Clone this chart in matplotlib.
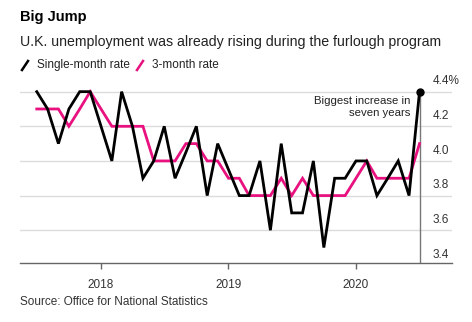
import numpy as np
import pandas as pd
import matplotlib
matplotlib.use("Agg")
import matplotlib.pyplot as plt
import matplotlib.dates as mdates
import matplotlib.transforms as mtransforms
from matplotlib.lines import Line2D

plt.rcParams['font.family'] = ['Liberation Sans', 'DejaVu Sans']

# Data (monthly, Jul 2017 - Jul 2020)
months = pd.date_range('2017-07-01', periods=37, freq='MS')
single_month = [4.4, 4.3, 4.1, 4.3, 4.4, 4.4, 4.2, 4.0, 4.4, 4.2,
                3.9, 4.0, 4.2, 3.9, 4.05, 4.2, 3.8, 4.1, 3.95, 3.8,
                3.8, 4.0, 3.6, 4.1, 3.7, 3.7, 4.0, 3.5, 3.9, 3.9,
                4.0, 4.0, 3.8, 3.9, 4.0, 3.8, 4.4]
three_month = [4.3, 4.3, 4.3, 4.2, 4.3, 4.4, 4.3, 4.2, 4.2, 4.2,
               4.2, 4.0, 4.0, 4.0, 4.1, 4.1, 4.0, 4.0, 3.9, 3.9,
               3.8, 3.8, 3.8, 3.9, 3.8, 3.9, 3.8, 3.8, 3.8, 3.8,
               3.9, 4.0, 3.9, 3.9, 3.9, 3.9, 4.1]
y_ticks = [3.4, 3.6, 3.8, 4.0, 4.2, 4.4]
y_labels = ['3.4', '3.6', '3.8', '4.0', '4.2', '4.4%']
x_ticks = pd.to_datetime(['2018-01-01', '2019-01-01', '2020-01-01'])
x_labels = ['2018', '2019', '2020']

pink = '#e8117f'
W, H = 472, 322
fig = plt.figure(figsize=(W / 100, H / 100), dpi=100)
# axes box in pixels: left 20, right 452, top ~83, bottom 263
left, right, top, bottom = 20, 452, 83, 263.3
ax = fig.add_axes([left / W, 1 - bottom / H, (right - left) / W, (bottom - top) / H])

ymin = 3.409
ymax = ymin + (bottom - top) / 173.2
ax.set_ylim(ymin, ymax)
ax.set_xlim(pd.Timestamp('2017-05-14'), pd.Timestamp('2020-10-02'))

for v in y_ticks[1:]:
    ax.axhline(v, color='#dcdcdc', lw=1.0, zorder=0)

# annotation leader line down from last point
ax.plot([months[-1], months[-1]], [ymin, single_month[-1]], color='#777777', lw=1.0, zorder=1)

ax.plot(months, three_month, color=pink, lw=2.0, solid_joinstyle='miter', zorder=2)
ax.plot(months, single_month, color='black', lw=2.0, solid_joinstyle='miter', zorder=3)
ax.plot(months[-1], single_month[-1], 'o', color='black', ms=5, zorder=4)

ax.text(months[-1] - pd.Timedelta(days=25), 4.375, 'Biggest increase in\nseven years',
        ha='right', va='top', fontsize=8.2, color='#222222', linespacing=1.25)

# y labels sitting above gridlines on the right
off = mtransforms.offset_copy(ax.get_yaxis_transform(), fig=fig, x=0, y=3, units='points')
for v, lab in zip(y_ticks, y_labels):
    ax.text(413 / 432 * 1.0, v, lab, transform=off, ha='left', va='bottom',
            fontsize=8.5, color='#333333')

ax.set_yticks([])
ax.set_xticks(x_ticks)
ax.set_xticklabels(x_labels)
ax.tick_params(axis='x', length=4, width=1, color='#666666', labelsize=8.5,
               labelcolor='#333333', pad=7)
for s in ['top', 'right', 'left']:
    ax.spines[s].set_visible(False)
ax.spines['bottom'].set_color('#666666')
ax.spines['bottom'].set_linewidth(1.0)

# titles
fig.text(20 / W, 1 - 17 / H, 'Big Jump', fontsize=10.5, fontweight='bold', va='center', ha='left')
fig.text(20 / W, 1 - 42 / H, 'U.K. unemployment was already rising during the furlough program',
         fontsize=10.2, va='center', ha='left', color='#222222')

# legend
fig.add_artist(Line2D([22 / W, 28 / W], [1 - 70 / H, 1 - 61 / H], color='black', lw=1.8))
fig.text(37 / W, 1 - 65 / H, 'Single-month rate', fontsize=8.5, va='center', ha='left', color='#222222')
fig.add_artist(Line2D([137 / W, 143 / W], [1 - 70 / H, 1 - 61 / H], color=pink, lw=1.8))
fig.text(152 / W, 1 - 65 / H, '3-month rate', fontsize=8.5, va='center', ha='left', color='#222222')

fig.text(20 / W, 1 - 302 / H, 'Source: Office for National Statistics', fontsize=8.5,
         va='center', ha='left', color='#333333')

fig.savefig('out.png', dpi=100)
